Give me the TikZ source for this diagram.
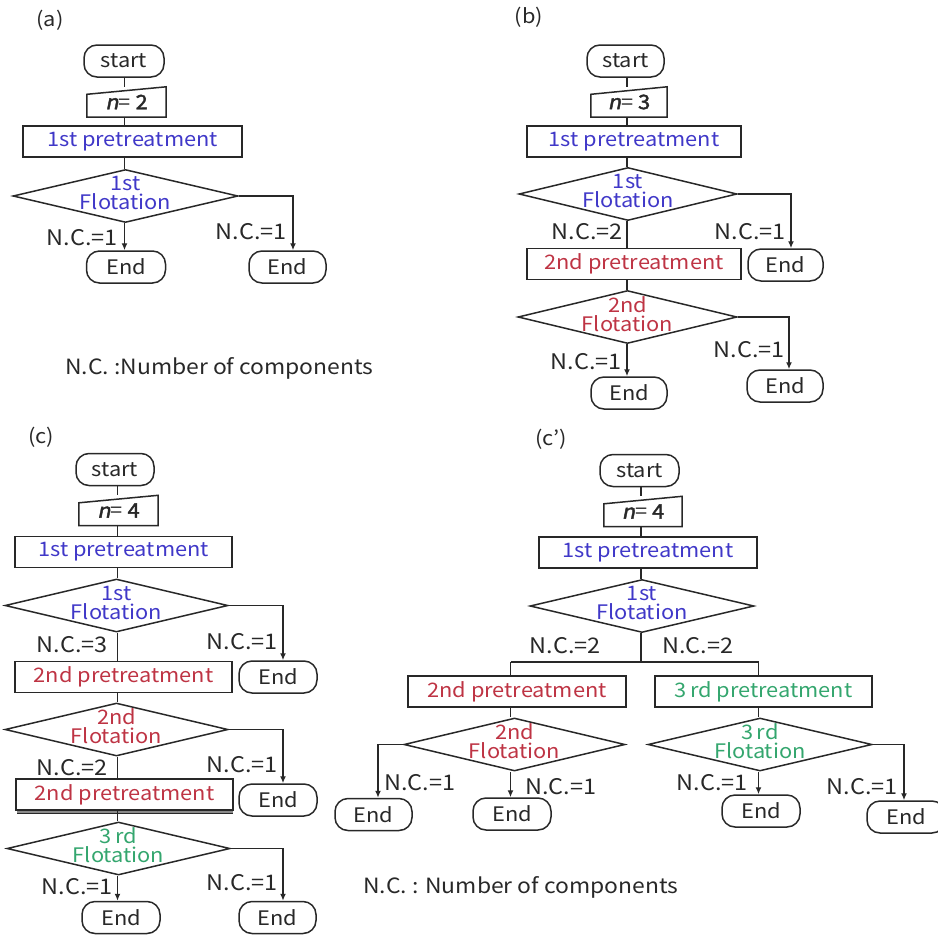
\documentclass[tikz,border=0pt]{standalone}
\usepackage{fontspec}
\setmainfont{Noto Sans CJK JP}[FakeStretch=1.09,AutoFakeSlant=0.2,AutoFakeBold=2]
\usetikzlibrary{shapes.geometric,arrows.meta}
\definecolor{flblue}{RGB}{64,56,200}
\definecolor{flred}{RGB}{190,52,68}
\definecolor{flgreen}{RGB}{52,166,110}
\definecolor{flgrey}{RGB}{40,40,40}

\begin{document}
\begin{tikzpicture}
[x=1pt,y=-1pt,
  every node/.style={font=\fontsize{20}{19}\selectfont,text=flgrey},
  termdecorate/.style={shape=rectangle,draw=flgrey,line width=1.5pt,rounded corners=13pt,minimum height=32pt,inner sep=0pt},
  inputdecorate/.style={shape=rectangle,minimum height=30pt,inner sep=0pt},
  procdecorate/.style={shape=rectangle,draw=flgrey,line width=1.5pt,minimum height=31pt,inner sep=0pt},
  diadecorate/.style={shape=diamond,draw=flgrey,line width=1.5pt,minimum height=53pt,inner sep=0pt},
  flotdecorate/.style={align=center,inner sep=0pt,yshift=3pt},
  ncdecorate/.style={inner sep=0pt,font=\fontsize{21.5}{21}\selectfont},
  linedecorate/.style={-,draw=flgrey,line width=1.5pt},
  arrowdecorate/.style={-{Latex[length=7pt,width=6pt]},draw=flgrey,line width=1.5pt}]
\useasboundingbox (0,0) rectangle (938,935);
\clip (0,0) rectangle (938,935);
%% panel labels
\node (lbla) at (50,20) {(a)};
\node (lblb) at (529,17) {(b)};
\node (lblc) at (41,437) {(c)};
\node (lbld) at (551,439) {(c’)};
%% columns
\coordinate (acol) at (124.5,0);
\coordinate (bcol) at (627,0);
\coordinate (ccol) at (117.5,0);
\coordinate (dcol) at (641,0);
\coordinate (d4col) at (510.5,0);
\coordinate (d5col) at (758.5,0);
%% start and end
\foreach \nodename/\x/\y/\w in {a0/124/61/80, b0/625.5/61/77, c0/115/469.5/78, d0/639.5/470.5/79} {
  \node (\nodename) at (\x,\y) [termdecorate,minimum width=\w pt] {start};
}
\foreach \nodename/\x/\y/\w in {a4/126/267/79, a5/287.5/267/77, b4/785.5/265/75, b7/629/393/76,
  b8/785/386/76, c4/278/677/78, c7/278/800/78, c10/121/917.5/78, c11/277.5/917.5/77,
  d8/373.5/814.5/77, d9/512/814/78, d10/761/811/78, d11/906/817/78} {
  \node (\nodename) at (\x,\y) [termdecorate,minimum width=\w pt] {End};
}
%% input n
\foreach \nodename/\x/\y/\w/\num in {a1/126.5/102/79/2, b1/629/102/76/3, c1/118.5/510.5/79/4, d1/643/511.5/78/4} {
  \node (\nodename) at (\x,\y) [inputdecorate,minimum width=\w pt] {{\bfseries\itshape n}= {\bfseries\num}};
  \draw[linedecorate] (\nodename.south west) -- (\nodename.south east) -- (\nodename.north east)
    -- ([yshift=-7.5pt]\nodename.north west) -- cycle;
}
%% pretreatments
\node (a2) at (132.5,141.5) [procdecorate,minimum width=219pt,text=flblue] {1st pretreatment};
\node (b2) at (634,141.5) [procdecorate,minimum width=214pt,text=flblue] {1st pretreatment};
\node (b5) at (634,264) [procdecorate,minimum width=214pt,text=flred] {2nd pretreatment};
\node (c2) at (123.5,552) [procdecorate,minimum width=217pt,text=flblue] {1st pretreatment};
\node (c5) at (123.5,677) [procdecorate,minimum width=217pt,text=flred] {2nd pretreatment};
\fill[flgrey!55] (17,810) rectangle (233,813.5);
\draw[linedecorate] (17,813.5) -- (233,813.5);
\node (c8) at (124.5,794.5) [procdecorate,minimum width=217pt,text=flred] {2nd pretreatment};
\node (d2) at (648,552.5) [procdecorate,minimum width=218pt,text=flblue] {1st pretreatment};
\node (d4) at (517,691.5) [procdecorate,minimum width=218pt,text=flred] {2nd pretreatment};
\node (d5) at (763.5,691.5) [procdecorate,minimum width=217pt,text=flgreen] {3\,rd pretreatment};
%% flotations
\foreach \nodename/\x/\y/\w/\col/\txt in {a3/125.5/196/225/flblue/1st, b3/628/194/218/flblue/1st,
  b6/627.5/317/219/flred/2nd, c3/116.5/605.5/223/flblue/1st, c6/116.5/729.5/223/flred/2nd,
  c9/118.5/848.5/223/flgreen/3\,rd, d3/642/606/224/flblue/1st, d6/514.5/744.5/221/flred/2nd,
  d7/760/744.5/224/flgreen/3\,rd} {
  \node (\nodename) at (\x,\y) [diadecorate,minimum width=\w pt] {};
  \node (\nodename t) at (\nodename) [flotdecorate,text=\col] {\txt\\Flotation};
}
%% stems
\foreach \s/\e/\c in {a0/a1/acol, a1/a2/acol, a2/a3/acol, b0/b1/bcol, b1/b2/bcol, b2/b3/bcol,
  b3/b5/bcol, b5/b6/bcol, c0/c1/ccol, c1/c2/ccol, c2/c3/ccol, c3/c5/ccol, c5/c6/ccol,
  c6/c8/ccol, c8/c9/ccol, d0/d1/dcol, d1/d2/dcol, d2/d3/dcol, d4/d6/d4col, d5/d7/d5col} {
  \draw[linedecorate] (\c |- \s.south) -- (\c |- \e.north);
}
\foreach \s/\e/\c in {a3/a4/acol, b6/b7/bcol, c9/c10/ccol, d6/d9/d4col, d7/d10/d5col} {
  \draw[arrowdecorate] (\c |- \s.south) -- (\c |- \e.north);
}
%% side branches
\foreach \s/\e/\dx in {a3/a5/5.5, b3/b4/5.5, b6/b8/4, c3/c4/5, c6/c7/5, c9/c11/5.5, d7/d11/-2} {
  \draw[arrowdecorate] (\s.east) -| ([xshift=\dx pt]\e.north);
}
\draw[arrowdecorate] (d6.west) -| ([xshift=4.5pt]d8.north);
%% split after 1st flotation in (c')
\coordinate (dj) at (641,662);
\draw[linedecorate] (dcol |- d3.south) -- (dj);
\draw[linedecorate] (d4col |- dj) -- (d5col |- dj);
\draw[linedecorate] (d4col |- dj) -- (d4col |- d4.north);
\draw[linedecorate] (d5col |- dj) -- (d5col |- d5.north);
%% number of components
\foreach \nodename/\x/\y/\anc/\txt in {n1/118/238/east/1, n2/287/232/east/1,
  n3/623/232/east/2, n4/786/232/east/1, n5/622/362/east/1, n6/785/350/east/1,
  n7/108/645/east/3, n8/278/642/east/1, n9/108/768/east/2, n10/278/765/east/1,
  n11/113/887/east/1, n12/278/883/east/1, n13/601/646/east/2, n14/662/646/west/2,
  n15/384/783/west/1, n16/525/787/west/1, n17/748/783/east/1, n18/898/787/east/1} {
  \node (\nodename) at (\x,\y) [ncdecorate,anchor=\anc] {N.C.=\txt};
}
\node (nca) at (65,368) [anchor=west,inner sep=0pt,font=\fontsize{21}{21}\selectfont] {N.C. :Number of components};
\node (ncd) at (363,887) [anchor=west,inner sep=0pt,font=\fontsize{21}{21}\selectfont] {N.C. : Number of components};
\end{tikzpicture}
\end{document}
